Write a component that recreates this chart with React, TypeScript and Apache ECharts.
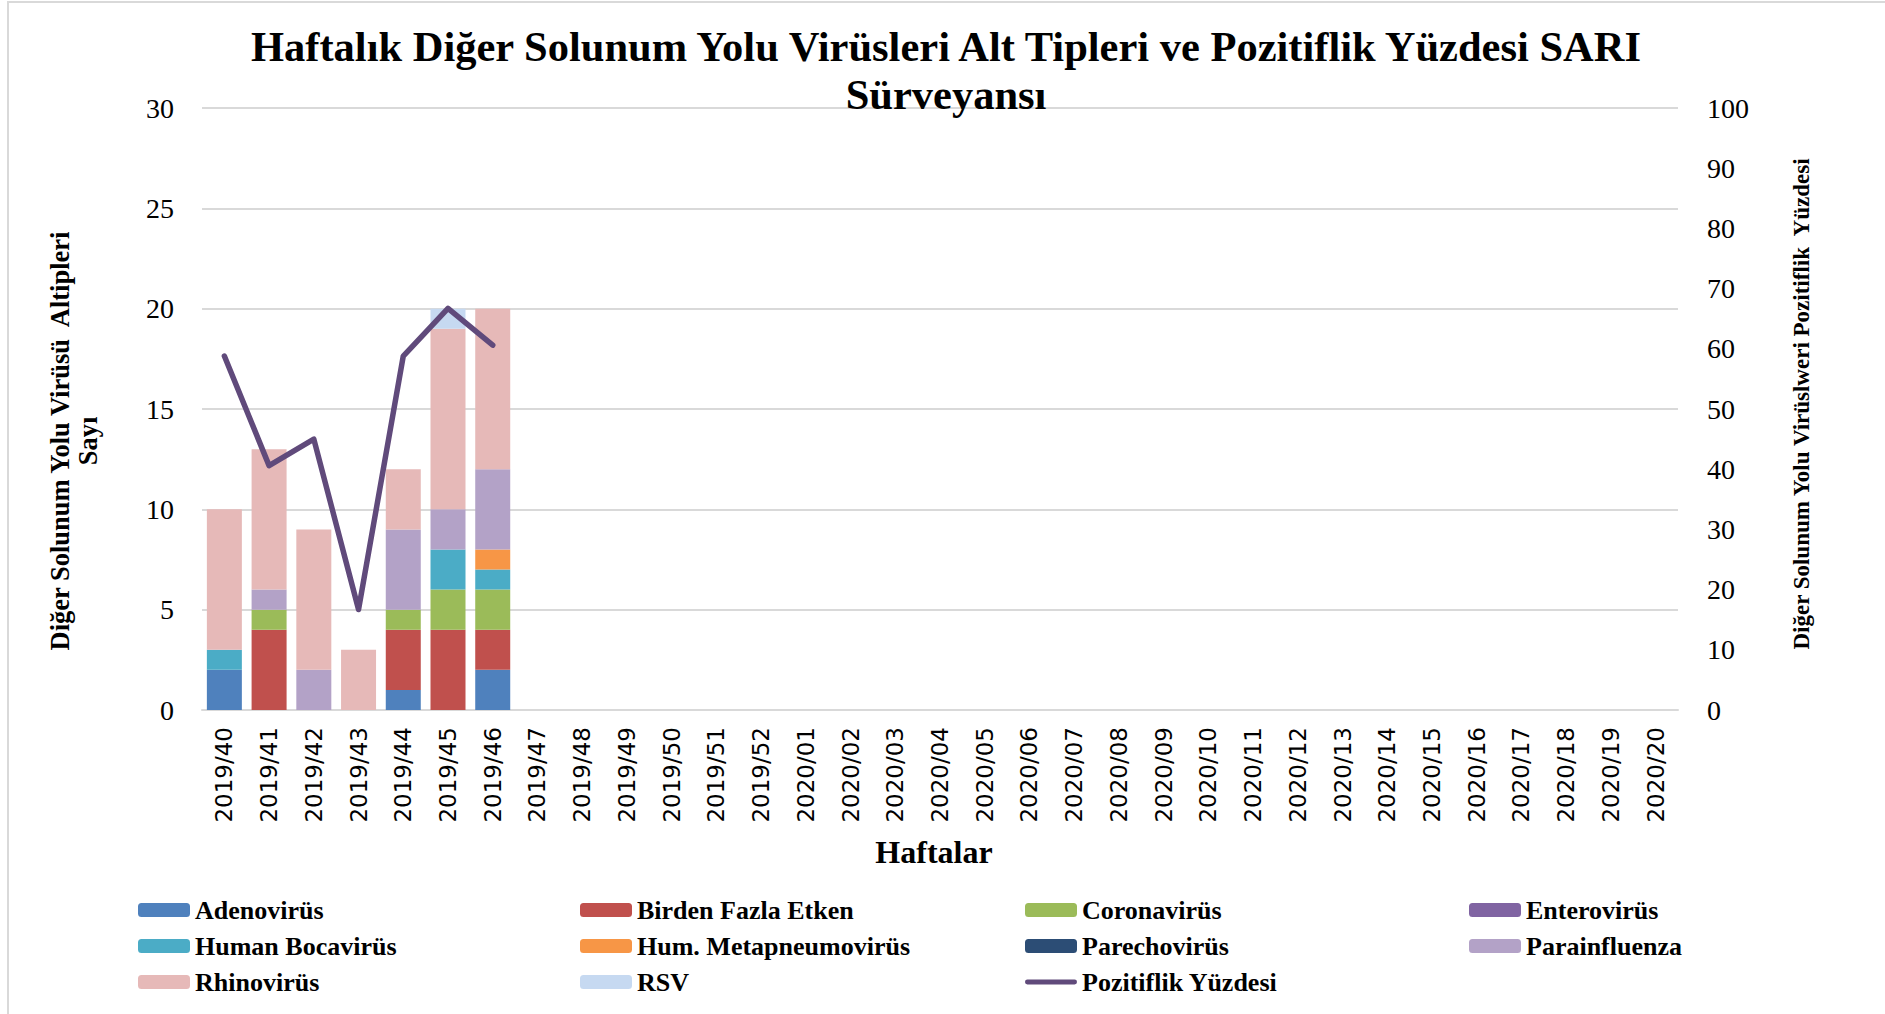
import React, { useEffect, useRef } from "react";
import * as echarts from "echarts";

const weeks = [
  "2019/40", "2019/41", "2019/42", "2019/43", "2019/44", "2019/45", "2019/46", "2019/47",
  "2019/48", "2019/49", "2019/50", "2019/51", "2019/52", "2020/01", "2020/02", "2020/03",
  "2020/04", "2020/05", "2020/06", "2020/07", "2020/08", "2020/09", "2020/10", "2020/11",
  "2020/12", "2020/13", "2020/14", "2020/15", "2020/16", "2020/17", "2020/18", "2020/19",
  "2020/20",
];

// values for 2019/40 .. 2019/46 (later weeks have no data)
const adenovirus = [2, 0, 0, 0, 1, 0, 2];
const birdenFazla = [0, 4, 0, 0, 3, 4, 2];
const coronavirus = [0, 1, 0, 0, 1, 2, 2];
const enterovirus = [0, 0, 0, 0, 0, 0, 0];
const bocavirus = [1, 0, 0, 0, 0, 2, 1];
const metapneumo = [0, 0, 0, 0, 0, 0, 1];
const parechovirus = [0, 0, 0, 0, 0, 0, 0];
const parainfluenza = [0, 1, 2, 0, 4, 2, 4];
const rhinovirus = [7, 7, 7, 3, 3, 9, 8];
const rsv = [0, 0, 0, 0, 0, 1, 0];
const pozitiflik = [58.8, 40.6, 45.0, 16.7, 58.8, 66.7, 60.6];

const leftTicks = { min: 0, max: 30, interval: 5 };
const rightTicks = { min: 0, max: 100, interval: 10 };

const barSeriesDefs = [
  { name: "Adenovirüs", data: adenovirus, color: "#4F81BD" },
  { name: "Birden Fazla Etken", data: birdenFazla, color: "#C0504D" },
  { name: "Coronavirüs", data: coronavirus, color: "#9BBB59" },
  { name: "Enterovirüs", data: enterovirus, color: "#8064A2" },
  { name: "Human Bocavirüs", data: bocavirus, color: "#4BACC6" },
  { name: "Hum. Metapneumovirüs", data: metapneumo, color: "#F79646" },
  { name: "Parechovirüs", data: parechovirus, color: "#2C4D75" },
  { name: "Parainfluenza", data: parainfluenza, color: "#B3A2C7" },
  { name: "Rhinovirüs", data: rhinovirus, color: "#E6B9B8" },
  { name: "RSV", data: rsv, color: "#C6D9F1" },
];
const lineName = "Pozitiflik Yüzdesi";
const lineColor = "#604A7B";
const lineIcon =
  "path://M2.5,0 H51.5 A2.5,2.5 0 0 1 51.5,5 H2.5 A2.5,2.5 0 0 1 2.5,0 Z";

const legendColumns = [
  ["Adenovirüs", "Human Bocavirüs", "Rhinovirüs"],
  ["Birden Fazla Etken", "Hum. Metapneumovirüs", "RSV"],
  ["Coronavirüs", "Parechovirüs", "Pozitiflik Yüzdesi"],
  ["Enterovirüs", "Parainfluenza"],
];
const legendLefts = [138, 580, 1025, 1469];

const pad = (arr: (number | null)[]) =>
  weeks.map((_, i) => (i < arr.length ? arr[i] : null));

const serif = "'Liberation Serif', 'Times New Roman', serif";

export default function App() {
  const ref = useRef<HTMLDivElement>(null);
  useEffect(() => {
    if (!ref.current) return;
    const chart = echarts.init(ref.current, null, { renderer: "svg" });
    const series: any[] = barSeriesDefs.map((s) => ({
      name: s.name,
      type: "bar",
      stack: "total",
      barWidth: 35,
      yAxisIndex: 0,
      itemStyle: { color: s.color },
      data: pad(s.data).map((v) => (v === 0 ? null : v)),
    }));
    series.push({
      name: lineName,
      type: "line",
      yAxisIndex: 1,
      symbol: "none",
      showSymbol: false,
      lineStyle: { color: lineColor, width: 5.5, cap: "round", join: "round" },
      itemStyle: { color: lineColor },
      data: pad(pozitiflik),
      z: 5,
    });
    const legends = legendColumns.map((items, i) => ({
      orient: "vertical",
      left: legendLefts[i],
      top: 897,
      padding: 0,
      itemWidth: 52,
      itemHeight: 14,
      itemGap: 10,
      itemTextGap: 5,
      selectedMode: false,
      data: items.map((n) =>
        n === lineName ? { name: n, icon: lineIcon } : { name: n }
      ),
      textStyle: {
        fontFamily: serif,
        fontWeight: "bold",
        fontSize: 26,
        color: "#000",
        lineHeight: 26,
      },
    }));
    chart.setOption({
      animation: false,
      backgroundColor: "#fff",
      title: {
        text:
          "Haftalık Diğer Solunum Yolu Virüsleri Alt Tipleri ve Pozitiflik Yüzdesi SARI\nSürveyansı",
        left: 946,
        textAlign: "center",
        top: 22,
        padding: 0,
        textStyle: {
          fontFamily: serif,
          fontWeight: "bold",
          fontSize: 42.5,
          lineHeight: 48,
          color: "#000",
        },
      },
      graphic: [
        {
          type: "rect",
          shape: { x: 8, y: 2, width: 1900, height: 1030 },
          style: { fill: "none", stroke: "#D9D9D9", lineWidth: 2 },
          silent: true,
        },
      ],
      legend: legends,
      grid: { left: 202, right: 207, top: 108, bottom: 304 },
      xAxis: {
        type: "category",
        data: weeks,
        name: "Haftalar",
        nameLocation: "middle",
        nameGap: 126,
        nameTextStyle: {
          fontFamily: serif,
          fontWeight: "bold",
          fontSize: 32,
          color: "#000",
          padding: [0, 12, 0, 0],
        },
        axisLine: { lineStyle: { color: "#D9D9D9", width: 2 } },
        axisTick: { show: false },
        axisLabel: {
          rotate: 90,
          interval: 0,
          margin: 17,
          fontFamily: "'DejaVu Sans', sans-serif",
          fontSize: 23,
          color: "#000",
        },
      },
      yAxis: [
        {
          type: "value",
          min: leftTicks.min,
          max: leftTicks.max,
          interval: leftTicks.interval,
          name: "Diğer Solunum Yolu Virüsü  Altipleri\nSayı",
          nameLocation: "middle",
          nameRotate: 90,
          nameGap: 100,
          nameTextStyle: {
            fontFamily: serif,
            fontWeight: "bold",
            fontSize: 26.5,
            lineHeight: 28,
            color: "#000",
            padding: [0, 64, 0, 0],
          },
          axisLine: { show: false },
          axisTick: { show: false },
          splitLine: { lineStyle: { color: "#D9D9D9", width: 2 } },
          axisLabel: {
            margin: 28,
            fontFamily: serif,
            fontSize: 28,
            color: "#000",
          },
        },
        {
          type: "value",
          min: rightTicks.min,
          max: rightTicks.max,
          interval: rightTicks.interval,
          position: "right",
          name: "Diğer Solunum Yolu Virüslweri Pozitiflik  Yüzdesi",
          nameLocation: "middle",
          nameRotate: 90,
          nameGap: 112,
          nameTextStyle: {
            fontFamily: serif,
            fontWeight: "bold",
            fontSize: 23,
            color: "#000",
            padding: [0, 0, 0, 10],
          },
          axisLine: { show: false },
          axisTick: { show: false },
          splitLine: { show: false },
          axisLabel: {
            margin: 29,
            fontFamily: serif,
            fontSize: 28,
            color: "#000",
          },
        },
      ],
      series,
    });
    return () => chart.dispose();
  }, []);
  return (
    <div
      ref={ref}
      style={{ position: "fixed", left: 0, top: 0, width: 1885, height: 1014 }}
    />
  );
}
